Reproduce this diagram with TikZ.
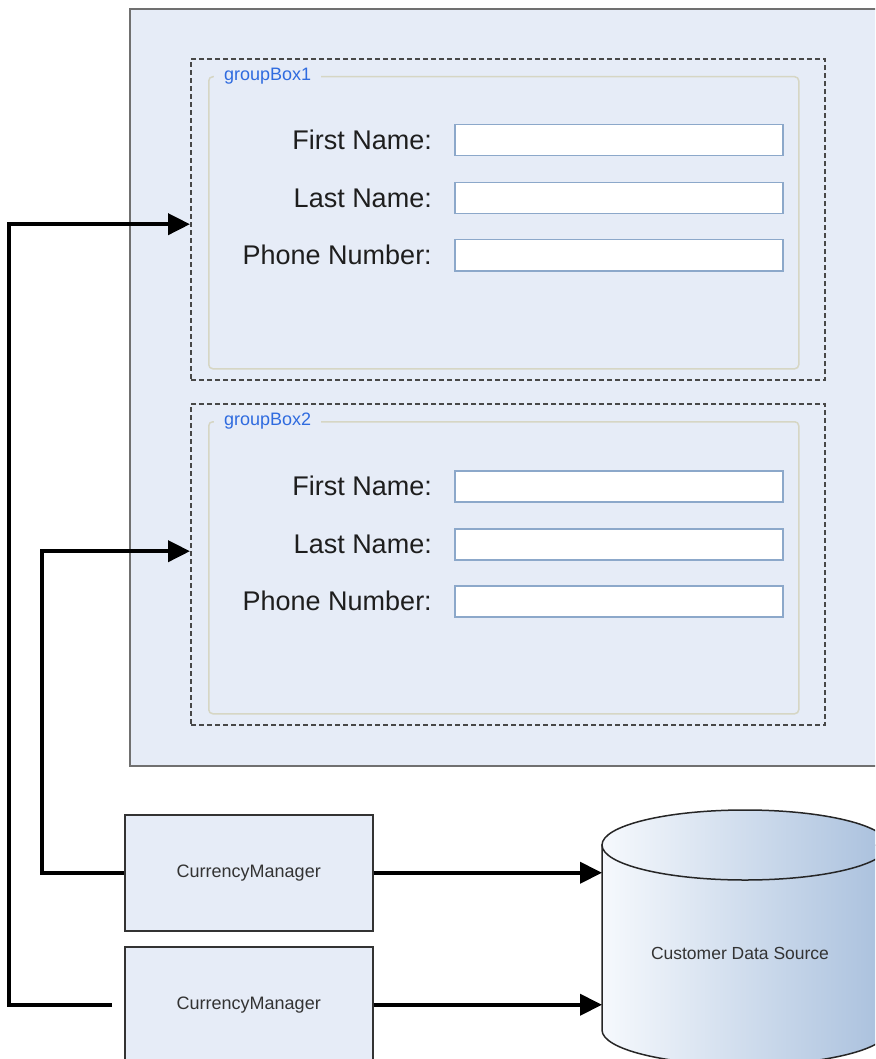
\documentclass[tikz,border=0pt]{standalone}
\usepackage{fontspec}
\setmainfont{Liberation Sans}
\usetikzlibrary{arrows.meta}

\definecolor{panelfill}{HTML}{E6ECF7}
\definecolor{panelline}{HTML}{707070}
\definecolor{dashline}{HTML}{484848}
\definecolor{frameline}{HTML}{D6D6C4}
\definecolor{fieldline}{HTML}{8CA8CA}
\definecolor{captionblue}{HTML}{2F6BDF}
\definecolor{labeltext}{HTML}{1E1E1E}
\definecolor{cmtext}{HTML}{333333}
\definecolor{cylleft}{HTML}{F6F9FD}
\definecolor{cylright}{HTML}{A9C0DD}

\begin{document}
\begin{tikzpicture}[x=1pt,y=-1pt,
  panel/.style={rectangle, draw=panelline, line width=2pt, fill=panelfill,
    inner sep=0pt, anchor=north west},
  dashbox/.style={rectangle, draw=dashline, line width=2.4pt,
    dash pattern=on 5pt off 3pt, inner sep=0pt, anchor=north west,
    minimum width=634pt, minimum height=321pt},
  framebox/.style={rectangle, draw=frameline, line width=1.5pt,
    rounded corners=4pt, inner sep=0pt, anchor=north west,
    minimum width=590pt, minimum height=292pt},
  caption/.style={anchor=west, fill=panelfill, inner xsep=10pt, inner ysep=2pt,
    text=captionblue, font=\fontsize{18}{20}\selectfont},
  field/.style={rectangle, draw=fieldline, line width=1.5pt, fill=white,
    inner sep=0pt, anchor=north west, minimum width=328pt, minimum height=31pt},
  fieldlabel/.style={anchor=east, inner sep=0pt, text=labeltext,
    font=\fontsize{27}{30}\selectfont},
  cmbox/.style={rectangle, draw=cmtext, line width=1.5pt, fill=panelfill,
    inner sep=0pt, anchor=north west, minimum width=248pt, minimum height=116pt,
    text=cmtext, font=\fontsize{18}{20}\selectfont},
  cylshade/.style={left color=cylleft, right color=cylright},
  cyline/.style={draw=black!85, line width=1.5pt},
  conn/.style={line width=4pt, line join=miter,
    -{Triangle[length=22pt, width=21pt]}}
]
\useasboundingbox (0,0) rectangle (875,1059);
\clip (0,0) rectangle (875,1059);

% form panel
\node[panel, minimum width=770pt, minimum height=757pt] (form) at (129,8) {};

% first group box
\node[dashbox] (gb1) at (190,58) {};
\node[framebox] (fr1) at (208,76) {};
\node[caption] (cap1) at (214,76) {groupBox1};
\node[field] (f11) at (454,124) {};
\node[field] (f12) at (454,182) {};
\node[field] (f13) at (454,239) {};
\node[fieldlabel] (l11) at ([xshift=-22pt]f11.west) {First Name:};
\node[fieldlabel] (l12) at ([xshift=-22pt]f12.west) {Last Name:};
\node[fieldlabel] (l13) at ([xshift=-22pt]f13.west) {Phone Number:};

% second group box
\node[dashbox] (gb2) at (190,403) {};
\node[framebox] (fr2) at (208,421) {};
\node[caption] (cap2) at (214,421) {groupBox2};
\node[field] (f21) at (454,470) {};
\node[field] (f22) at (454,528) {};
\node[field] (f23) at (454,585) {};
\node[fieldlabel] (l21) at ([xshift=-22pt]f21.west) {First Name:};
\node[fieldlabel] (l22) at ([xshift=-22pt]f22.west) {Last Name:};
\node[fieldlabel] (l23) at ([xshift=-22pt]f23.west) {Phone Number:};

% currency managers
\node[cmbox] (cm1) at (124,814) {CurrencyManager};
\node[cmbox] (cm2) at (124,946) {CurrencyManager};

% data source cylinder
\path[cylshade, cyline] (602,845) -- (602,1030)
  arc[start angle=180, end angle=360, x radius=143pt, y radius=35pt]
  -- (888,845) -- cycle;
\path[cylshade, cyline] (745,845) ellipse [x radius=143pt, y radius=35pt];
\node[text=cmtext, font=\fontsize{17.5}{20}\selectfont] (db) at (740,953)
  {Customer Data Source};
\coordinate (dbside) at (602,950);

% binding rails
\coordinate (rail1) at (9,0);
\coordinate (rail2) at (42,0);

% connectors
\draw[conn] ([xshift=-12pt]cm2.west) -- (cm2.west -| rail1)
  |- ([yshift=-4.5pt]gb1.west);
\draw[conn] (cm1.west) -- (cm1.west -| rail2)
  |- ([yshift=13.5pt]gb2.west);
\draw[conn] (cm1.east) -- (cm1.east -| dbside);
\draw[conn] (cm2.east) -- (cm2.east -| dbside);
\end{tikzpicture}
\end{document}
